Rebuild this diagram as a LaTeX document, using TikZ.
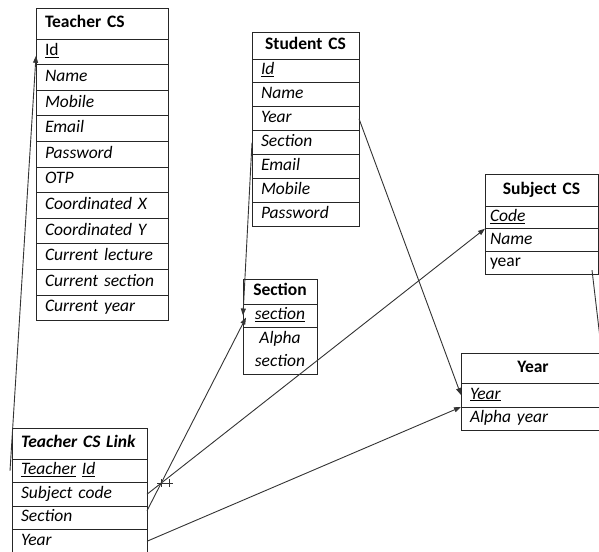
\documentclass[tikz,border=0pt]{standalone}
\usepackage{fontspec}
\setmainfont{Carlito}
\usetikzlibrary{positioning,arrows.meta,intersections}

\begin{document}
\begin{tikzpicture}[x=1pt, y=-1pt,
  hdr/.style 2 args={draw=black!85, line width=0.9pt, outer sep=0pt,
    font=\fontsize{17.5}{23}\selectfont\bfseries, anchor=north west,
    inner xsep=9pt, inner ysep=0pt, text width=#1, minimum height=#2,
    text height=12pt, text depth=4pt, align=left},
  hdrc/.style 2 args={hdr={#1}{#2}, align=center},
  fld/.style 2 args={hdr={#1}{#2}, font=\fontsize{17.5}{23}\selectfont\itshape},
  fldc/.style 2 args={fld={#1}{#2}, align=center},
  lnk/.style={draw=black!80, line width=0.9pt},
  arr/.style={lnk, -{Triangle[length=7pt,width=5pt]}}]
  \useasboundingbox (0,0) rectangle (599,551);
  \clip (0,0) rectangle (599,551);

  \node[hdr={114pt}{31pt}] (tcs0) at (36,8) {Teacher CS};
  \node[fld={114pt}{25.6pt}, below=0pt of tcs0] (tcs1) {\upshape\underline{Id}};
  \node[fld={114pt}{25.6pt}, below=0pt of tcs1] (tcs2) {Name};
  \node[fld={114pt}{25.6pt}, below=0pt of tcs2] (tcs3) {Mobile};
  \node[fld={114pt}{25.6pt}, below=0pt of tcs3] (tcs4) {Email};
  \node[fld={114pt}{25.6pt}, below=0pt of tcs4] (tcs5) {Password};
  \node[fld={114pt}{25.6pt}, below=0pt of tcs5] (tcs6) {OTP};
  \node[fld={114pt}{25.6pt}, below=0pt of tcs6] (tcs7) {Coordinated X};
  \node[fld={114pt}{25.6pt}, below=0pt of tcs7] (tcs8) {Coordinated Y};
  \node[fld={114pt}{25.6pt}, below=0pt of tcs8] (tcs9) {Current lecture};
  \node[fld={114pt}{25.6pt}, below=0pt of tcs9] (tcs10) {Current section};
  \node[fld={114pt}{25.6pt}, below=0pt of tcs10] (tcs11) {Current year};

  \node[hdrc={89pt}{27pt}] (scs0) at (252,32) {Student CS};
  \node[fld={89pt}{23.9pt}, below=0pt of scs0] (scs1) {\underline{Id}};
  \node[fld={89pt}{23.9pt}, below=0pt of scs1] (scs2) {Name};
  \node[fld={89pt}{23.9pt}, below=0pt of scs2] (scs3) {Year};
  \node[fld={89pt}{23.9pt}, below=0pt of scs3] (scs4) {Section};
  \node[fld={89pt}{23.9pt}, below=0pt of scs4] (scs5) {Email};
  \node[fld={89pt}{23.9pt}, below=0pt of scs5] (scs6) {Mobile};
  \node[fld={89pt}{23.9pt}, below=0pt of scs6] (scs7) {Password};

  \node[hdrc={103pt}{32pt}, inner xsep=5pt] (sub0) at (485,174) {Subject CS};
  \node[fld={103pt}{22.7pt}, inner xsep=5pt, below=0pt of sub0] (sub1) {\underline{Code}};
  \node[fld={103pt}{22.7pt}, inner xsep=5pt, below=0pt of sub1] (sub2) {Name};
  \node[fld={103pt}{22.7pt}, inner xsep=5pt, below=0pt of sub2] (sub3) {\upshape year};

  \node[hdrc={56pt}{25pt}] (sec0) at (243,279) {Section};
  \node[fldc={56pt}{23pt}, below=0pt of sec0] (sec1) {\underline{section}};
  \node[fldc={56pt}{47pt}, text depth=27pt, below=0pt of sec1] (sec2) {Alpha\\section};

  \node[hdrc={126pt}{30pt}] (yr0) at (461,353) {Year};
  \node[fld={126pt}{24pt}, below=0pt of yr0] (yr1) {\underline{Year}};
  \node[fld={126pt}{23pt}, below=0pt of yr1] (yr2) {Alpha year};

  \node[hdr={117pt}{31pt}] (tl0) at (12,428) {\itshape Teacher CS Link};
  \node[fld={117pt}{23.5pt}, below=0pt of tl0] (tl1) {\underline{Teacher} \underline{Id}};
  \node[fld={117pt}{23.5pt}, below=0pt of tl1] (tl2) {Subject code};
  \node[fld={117pt}{23.5pt}, below=0pt of tl2] (tl3) {Section};
  \node[fld={117pt}{23.5pt}, below=0pt of tl3] (tl4) {Year};

  \draw[arr] ([xshift=-2pt]tl1.west) -- ([yshift=-4pt]tcs1.west);
  \draw[arr] (scs4.west) -- (sec1.west);
  \draw[arr] (scs3.east) -- (yr1.west);
  \draw[arr, name path=sc] (tl2.east) -- (sub1.south west);
  \draw[arr, name path=sn] ([yshift=7pt]tl3.east) -- ([xshift=3pt,yshift=-2pt]sec1.west);
  \draw[arr] (tl4.east) -- (yr1.south west);
  \coordinate (yoff) at (604,372);
  \draw[lnk] ([xshift=-6pt,yshift=4pt]sub3.south east) -- (yoff);

  \path[name intersections={of=sc and sn, by=xx}];
  \draw[lnk, line width=0.6pt] ([xshift=-4pt]xx) -- ([xshift=4pt]xx)
    ([yshift=-4pt]xx) -- ([yshift=4pt]xx);
  \draw[lnk, line width=0.6pt] ([xshift=4pt]xx) -- ([xshift=12pt]xx)
    ([xshift=8pt,yshift=-4pt]xx) -- ([xshift=8pt,yshift=4pt]xx);
\end{tikzpicture}
\end{document}
